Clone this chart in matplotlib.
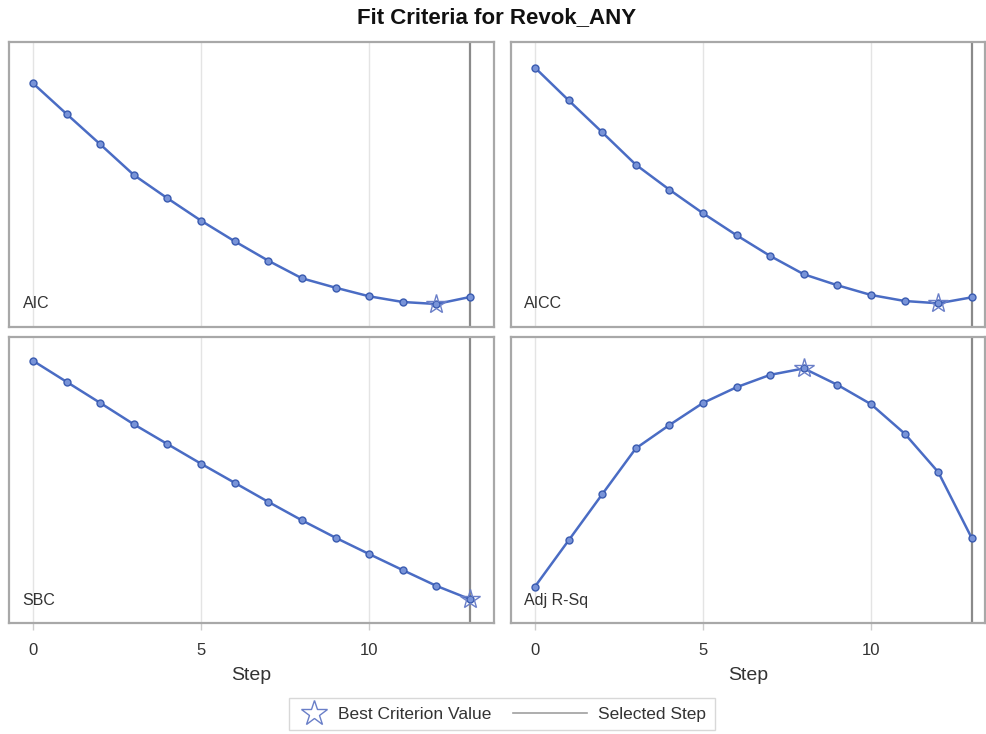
import numpy as np
import matplotlib
matplotlib.use("Agg")
import matplotlib.pyplot as plt
from matplotlib.lines import Line2D
from matplotlib.legend_handler import HandlerBase

plt.rcParams['font.family'] = ['Liberation Sans', 'DejaVu Sans']

# data (relative criterion values)
steps = np.arange(14)
aic = [243.4, 212.7, 182.4, 151.7, 128.4, 106.0, 85.4, 66.0, 48.4, 39.0, 30.4, 24.7, 22.7, 29.7]
aicc = [259.0, 226.4, 194.4, 162.0, 137.0, 113.4, 91.4, 70.7, 52.4, 41.4, 31.7, 25.7, 23.4, 29.4]
sbc = [261.6, 240.6, 219.6, 198.3, 178.6, 159.0, 140.0, 121.0, 102.6, 85.3, 69.0, 53.0, 37.3, 24.0]
adj_rsq = [36.6, 82.6, 128.6, 174.3, 197.6, 219.6, 235.3, 247.6, 254.0, 237.6, 218.3, 189.0, 150.6, 84.6]
panel_names = ['AIC', 'AICC', 'SBC', 'Adj R-Sq']
best_step = [12, 12, 13, 8]
selected_step = 13
xticks = [0, 5, 10]

blue = '#4a6cc4'
edge_blue = '#3a5bb0'
star_col = '#6a7fc8'
frame_col = '#a8a8a8'
text_col = '#333333'

fig = plt.figure(figsize=(9.87, 7.34), dpi=100)
W, H = 987, 734

def px_axes(x0, x1, y0, y1):
    return fig.add_axes([x0 / W, 1 - y1 / H, (x1 - x0) / W, (y1 - y0) / H])

boxes = [(9, 494, 41.7, 326.7), (511, 985, 41.7, 326.7),
         (9, 494, 337.3, 623.3), (511, 985, 337.3, 623.3)]
xlims = [(-0.714, 13.714), (-0.714, 13.39), (-0.714, 13.714), (-0.714, 13.39)]
series = [aic, aicc, sbc, adj_rsq]

for i, (box, vals, name, best) in enumerate(zip(boxes, series, panel_names, best_step)):
    ax = px_axes(*box)
    ax.set_xlim(*xlims[i])
    ax.set_ylim(0, 285)
    for xt in xticks:
        ax.axvline(xt, color='#e4e4e4', lw=1.0, zorder=0)
    ax.axvline(selected_step, color='#8a8a8a', lw=1.6, zorder=1)
    ax.plot(steps, vals, color=blue, lw=1.8, marker='o', markersize=5,
            markerfacecolor='#7893d8', markeredgecolor=edge_blue, markeredgewidth=1.0, zorder=3)
    ax.plot(steps[best], vals[best], marker='*', markersize=15, markerfacecolor='none',
            markeredgecolor=star_col, markeredgewidth=1.0, zorder=4)
    ax.text(0.028, 0.08, name, transform=ax.transAxes, fontsize=11.5, color=text_col,
            ha='left', va='center')
    for s in ax.spines.values():
        s.set_color(frame_col)
        s.set_linewidth(1.6)
    ax.set_yticks([])
    ax.set_xticks(xticks)
    ax.tick_params(axis='x', length=5, color='#cccccc', width=1, labelsize=12,
                   labelcolor=text_col, pad=9)
    if i < 2:
        ax.tick_params(axis='x', labelbottom=False, length=0)
    else:
        ax.set_xlabel('Step', fontsize=14, color=text_col, labelpad=7)

fig.text(497 / W, 1 - 18 / H, 'Fit Criteria for Revok_ANY', ha='center', va='center',
         fontsize=16, fontweight='bold', color='#111111')


class StarHandler(HandlerBase):
    def create_artists(self, legend, orig_handle, xdescent, ydescent, width, height, fontsize, trans):
        m = Line2D([-xdescent + width / 2], [height / 2 - ydescent], ls='none', marker='*',
                   markersize=19, markerfacecolor='none', markeredgecolor=star_col,
                   markeredgewidth=1.0, transform=trans)
        return [m]


class LongLineHandler(HandlerBase):
    def create_artists(self, legend, orig_handle, xdescent, ydescent, width, height, fontsize, trans):
        y = height / 2 - ydescent
        ln = Line2D([-xdescent - 1.35 * width, -xdescent + 0.9 * width], [y, y],
                    color='#a0a0a0', lw=1.2, transform=trans)
        return [ln]


star_h = Line2D([], [], ls='none', marker='*')
line_h = Line2D([], [], color='#a0a0a0')
fig.legend([star_h, line_h], ['Best Criterion Value', 'Selected Step'], loc='center',
           bbox_to_anchor=(502 / W, 1 - 714 / H), ncol=2, frameon=True, fontsize=12.5,
           handlelength=1.9, columnspacing=3.8, handletextpad=0.45, borderpad=0.5,
           fancybox=False, edgecolor='#cfcfcf', labelcolor=text_col,
           handler_map={star_h: StarHandler(), line_h: LongLineHandler()})

fig.savefig('out.png', dpi=100)
